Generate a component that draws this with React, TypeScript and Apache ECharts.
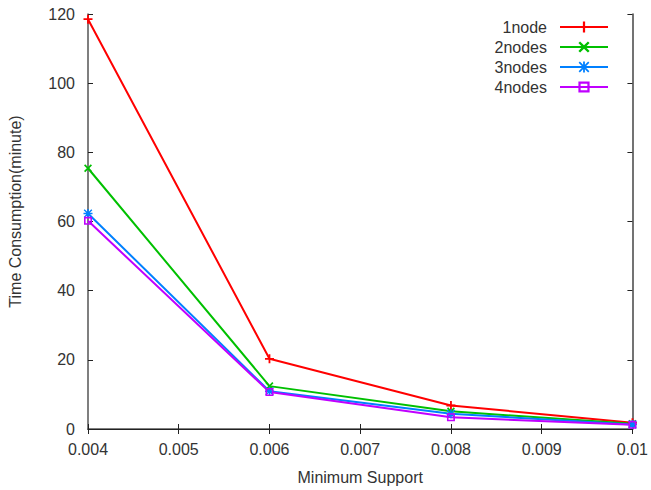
import React, { useEffect, useRef } from "react";
import * as echarts from "echarts";

const xValues = [0.004, 0.006, 0.008, 0.01];
const seriesNames = ["1node", "2nodes", "3nodes", "4nodes"];
const node1 = [118.5, 20.3, 6.8, 1.8];
const node2 = [75.4, 12.4, 5.1, 1.5];
const node3 = [62.3, 10.9, 4.4, 1.3];
const node4 = [60.2, 10.7, 3.4, 1.2];
const yTicks = [0, 20, 40, 60, 80, 100, 120];
const xTicks = [0.004, 0.005, 0.006, 0.007, 0.008, 0.009, 0.01];

const colors = ["#ff0000", "#00c000", "#0080ff", "#c000ff"];
const PLUS = "path://M4,0H6V4H10V6H6V10H4V6H0V4H4Z";
const CROSS =
  "path://M1.5,0L5,3.5L8.5,0L10,1.5L6.5,5L10,8.5L8.5,10L5,6.5L1.5,10L0,8.5L3.5,5L0,1.5Z";
const STAR =
  "path://M4.2,0H5.8V4.2H10V5.8H5.8V10H4.2V5.8H0V4.2H4.2ZM1.3,0.2L5,3.9L8.7,0.2L9.8,1.3L6.1,5L9.8,8.7L8.7,9.8L5,6.1L1.3,9.8L0.2,8.7L3.9,5L0.2,1.3Z";
const SQUARE = "path://M0,0H10V10H0ZM2,2V8H8V2Z";
const symbols = [PLUS, CROSS, STAR, SQUARE];
const symbolSizes = [9, 8, 9, 8];

const FONT = "Liberation Sans, Arial, sans-serif";
const TEXT = "#333";
const AXIS = "#555";

export default function App() {
  const ref = useRef<HTMLDivElement>(null);
  useEffect(() => {
    if (!ref.current) return;
    const chart = echarts.init(ref.current, undefined, { renderer: "svg" });
    const all = [node1, node2, node3, node4];
    const fmt = (v: number) => String(+v.toFixed(3));
    const xMin = xTicks[0];
    const xMax = xTicks[xTicks.length - 1];
    const yMin = yTicks[0];
    const yMax = yTicks[yTicks.length - 1];
    const axisCommon = {
      axisLine: { show: true, lineStyle: { color: AXIS, width: 1.5 } },
      axisTick: { show: true, inside: true, length: 5, lineStyle: { color: "#222", width: 1 } },
      splitLine: { show: false },
    };
    chart.setOption({
      animation: false,
      backgroundColor: "#fff",
      textStyle: { fontFamily: FONT },
      grid: { left: 88, top: 14, right: 16, bottom: 60.5, containLabel: false },
      legend: {
        orient: "vertical",
        align: "right",
        right: 37,
        top: 14,
        itemWidth: 48,
        itemHeight: 14,
        itemGap: 4,
        textStyle: { fontSize: 16, color: TEXT, fontFamily: FONT, lineHeight: 16, padding: [0, 8, 0, 0] },
        data: seriesNames,
      },
      xAxis: [
        {
          type: "value",
          min: xMin,
          max: xMax,
          interval: 0.001,
          name: "Minimum Support",
          nameLocation: "middle",
          nameGap: 40,
          nameTextStyle: { fontSize: 16, color: TEXT, fontFamily: FONT },
          axisLabel: {
            fontSize: 16,
            color: TEXT,
            fontFamily: FONT,
            margin: 12,
            formatter: fmt,
            showMinLabel: true,
            showMaxLabel: true,
          },
          ...axisCommon,
        },
        {
          type: "value",
          position: "top",
          min: xMin,
          max: xMax,
          interval: 0.001,
          axisLabel: { show: false },
          ...axisCommon,
          axisLine: { show: true, lineStyle: { color: "#222", width: 1 } },
        },
      ],
      yAxis: [
        {
          type: "value",
          min: yMin,
          max: yMax,
          interval: 20,
          axisLabel: { fontSize: 16, color: TEXT, fontFamily: FONT, margin: 13 },
          ...axisCommon,
        },
        {
          type: "value",
          position: "right",
          min: yMin,
          max: yMax,
          interval: 20,
          axisLabel: { show: false },
          ...axisCommon,
          axisLine: { show: true, lineStyle: { color: "#444", width: 1.5 } },
        },
      ],
      graphic: [
        {
          type: "text",
          x: 15,
          y: 211.5,
          rotation: Math.PI / 2,
          style: {
            text: "Time Consumption(minute)",
            fontSize: 16,
            fontFamily: FONT,
            fill: TEXT,
            align: "center",
            verticalAlign: "middle",
          },
        },
      ],
      series: seriesNames.map((name, i) => ({
        name,
        type: "line",
        xAxisIndex: 0,
        yAxisIndex: 0,
        data: xValues.map((x, j) => [x, all[i][j]]),
        symbol: symbols[i],
        symbolSize: symbolSizes[i],
        symbolKeepAspect: true,
        showAllSymbol: true,
        lineStyle: { color: colors[i], width: 2 },
        itemStyle: { color: colors[i] },
        emphasis: { disabled: true },
      })),
    });
    return () => chart.dispose();
  }, []);
  return (
    <div
      ref={ref}
      style={{ position: "fixed", left: 0, top: 0, width: 651, height: 490 }}
    />
  );
}
